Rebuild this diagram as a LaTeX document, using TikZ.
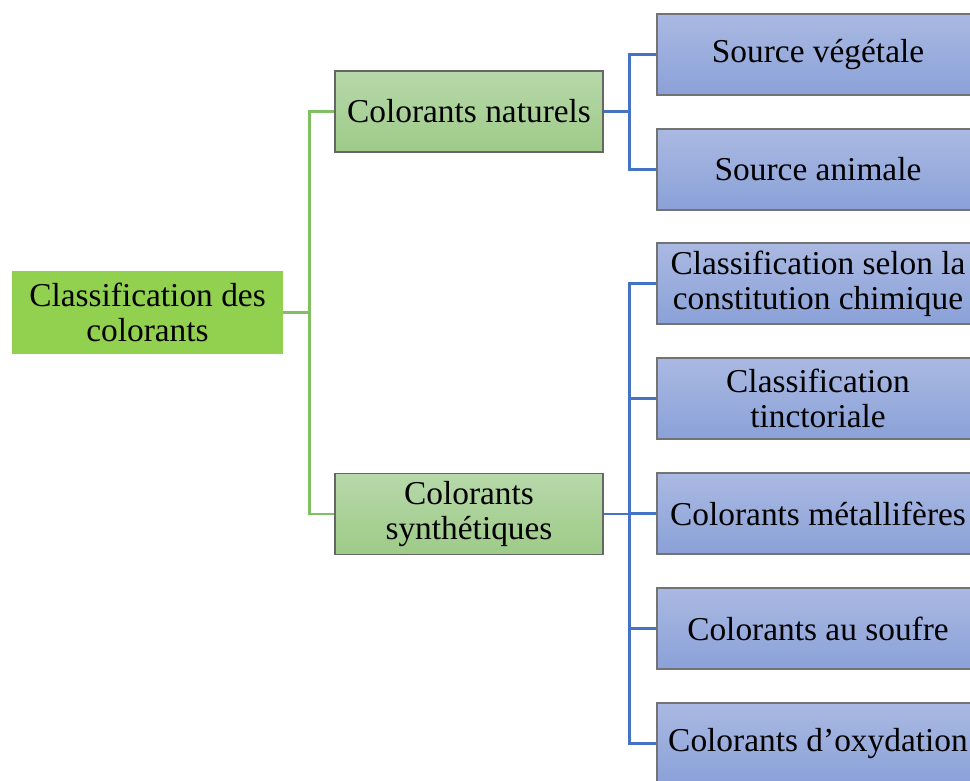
\documentclass[tikz,border=0pt]{standalone}
\usepackage{fontspec}
\setmainfont{Liberation Serif}
\usetikzlibrary{positioning}
\definecolor{Leaf}{HTML}{92D050}
\definecolor{LeafTop}{HTML}{B7D8AA}
\definecolor{LeafBot}{HTML}{9ECB88}
\definecolor{SkyTop}{HTML}{AAB9E2}
\definecolor{SkyBot}{HTML}{8AA1D8}
\definecolor{Wire}{HTML}{4472C4}
\definecolor{Stem}{HTML}{80C060}

\begin{document}
\begin{tikzpicture}[x=0.2mm,y=-0.2mm,
    lbl/.style={align=center,inner sep=0pt,font=\fontsize{19}{20}\selectfont},
    rootbox/.style={lbl,fill=Leaf,minimum width=54.2mm,minimum height=16.6mm},
    midbox/.style={lbl,top color=LeafTop,bottom color=LeafBot,draw=black!60,line width=0.6pt,minimum width=53.6mm,minimum height=16.2mm},
    leafbox/.style={lbl,top color=SkyTop,bottom color=SkyBot,draw=black!55,line width=0.6pt,minimum width=64.4mm,minimum height=16.2mm},
    gwire/.style={Stem,line width=1.3pt},
    bwire/.style={Wire,line width=1.3pt}]
    \useasboundingbox (0,0) rectangle (970,780);
    \clip (0,0) rectangle (970,780);
    \node[rootbox] (root) at (147.5,312.5) {Classification des\\colorants};
    \node[midbox] (nat) at (469,111.5) {Colorants naturels};
    \node[midbox] (syn) at (469,514) {Colorants\\synthétiques};
    \node[leafbox] (veg) at (818,54.5) {Source végétale};
    \node[leafbox] (ani) at (818,169.5) {Source animale};
    \node[leafbox] (chi) at (818,283.5) {Classification selon la\\constitution chimique};
    \node[leafbox] (tin) at (818,398.5) {Classification\\tinctoriale};
    \node[leafbox] (met) at (818,513.5) {Colorants métallifères};
    \node[leafbox] (sou) at (818,628.5) {Colorants au soufre};
    \node[leafbox] (oxy) at (818,743.5) {Colorants d’oxydation};
    \draw[gwire] (root.east) -- ++(26,0) coordinate (gj) |- (nat.west);
    \draw[gwire] (gj) |- (syn.west);
    \draw[bwire] (nat.east) -- ++(26,0) coordinate (nj) |- (veg.west);
    \draw[bwire] (nj) |- (ani.west);
    \draw[bwire] (syn.east) -- ++(26,0) coordinate (sj);
    \foreach \n in {chi,tin,met,sou,oxy} \draw[bwire] (sj) |- (\n.west);
\end{tikzpicture}
\end{document}
